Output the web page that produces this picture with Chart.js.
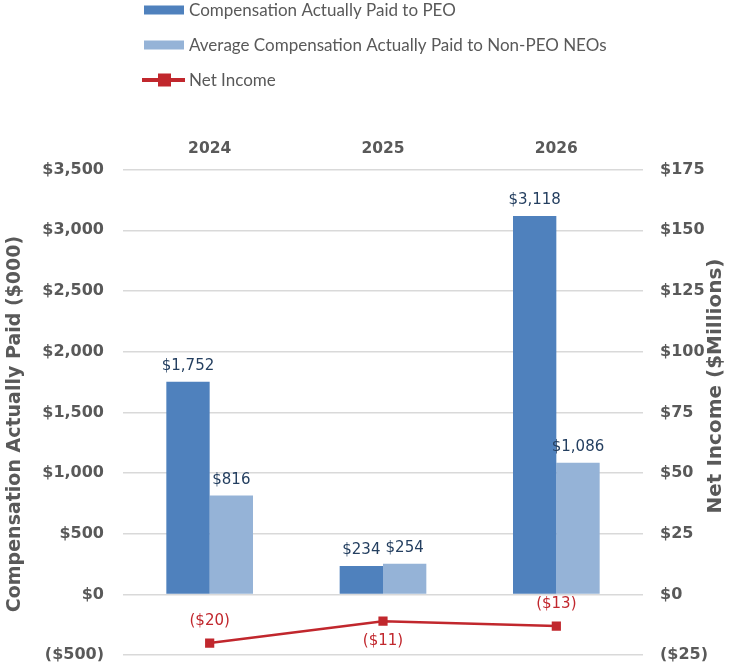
<!DOCTYPE html>
<html>
<head>
<meta charset="utf-8">
<script src="https://cdn.jsdelivr.net/npm/chart.js@4.4.1/dist/chart.umd.min.js"></script>
<style>
  html, body { margin: 0; padding: 0; background: #ffffff; }
  #wrap { width: 753px; height: 671px; position: relative; }
</style>
</head>
<body>
<div id="wrap"><canvas id="c"></canvas></div>
<script>
const categories = ["2024", "2025", "2026"];
const peoValues = [1752, 234, 3118];
const nonPeoValues = [816, 254, 1086];
const netIncomeValues = [-20, -11, -13];
const leftTicks = [-500, 0, 500, 1000, 1500, 2000, 2500, 3000, 3500];
const rightTicks = [-25, 0, 25, 50, 75, 100, 125, 150, 175];
const seriesNames = ["Compensation Actually Paid to PEO", "Average Compensation Actually Paid to Non-PEO NEOs", "Net Income"];
const leftTitle = "Compensation Actually Paid ($000)";
const rightTitle = "Net Income ($Millions)";
const netLabelAbove = [true, false, true];

const COL_PEO = "#4F81BD";
const COL_NON = "#95B3D7";
const COL_RED = "#C1272D";
const COL_TXT = "#595959";
const COL_VAL = "#243F60";

function money(v) {
  const s = "$" + Math.abs(v).toLocaleString("en-US");
  return v < 0 ? "(" + s + ")" : s;
}

const extras = {
  id: "extras",
  afterDatasetsDraw(chart) {
    const ctx = chart.ctx;
    ctx.save();
    ctx.font = "15px 'DejaVu Sans'";
    ctx.fillStyle = COL_VAL;
    ctx.textAlign = "center";
    ctx.textBaseline = "middle";
    [0, 1].forEach(di => {
      chart.getDatasetMeta(di).data.forEach((el, i) => {
        ctx.fillText(money(chart.data.datasets[di].data[i]), el.x, el.y - 15.5);
      });
    });
    ctx.fillStyle = COL_RED;
    chart.getDatasetMeta(2).data.forEach((el, i) => {
      const dy = netLabelAbove[i] ? -22 : 20;
      ctx.fillText(money(chart.data.datasets[2].data[i]), el.x, el.y + dy);
    });
    ctx.restore();
  },
  afterDraw(chart) {
    const ctx = chart.ctx;
    ctx.save();
    ctx.fillStyle = COL_TXT;
    ctx.textAlign = "center";
    ctx.textBaseline = "middle";
    ctx.save();
    ctx.font = "bold 19px 'DejaVu Sans'";
    ctx.translate(15, 424);
    ctx.rotate(-Math.PI / 2);
    ctx.fillText(leftTitle, 0, 0);
    ctx.restore();
    ctx.save();
    ctx.font = "bold 20px 'DejaVu Sans'";
    ctx.translate(716, 386);
    ctx.rotate(-Math.PI / 2);
    ctx.fillText(rightTitle, 0, 0);
    ctx.restore();
    // legend
    ctx.font = "17px Lato";
    ctx.textAlign = "left";
    ctx.textBaseline = "middle";
    const rows = [10, 45, 80];
    ctx.fillStyle = COL_PEO;
    ctx.fillRect(144, rows[0] - 4.5, 40, 9);
    ctx.fillStyle = COL_NON;
    ctx.fillRect(144, rows[1] - 4.5, 40, 9);
    ctx.strokeStyle = COL_RED;
    ctx.lineWidth = 4;
    ctx.beginPath();
    ctx.moveTo(142, rows[2]);
    ctx.lineTo(185, rows[2]);
    ctx.stroke();
    ctx.fillStyle = COL_RED;
    ctx.fillRect(158, rows[2] - 6.5, 13, 13);
    ctx.fillStyle = COL_TXT;
    seriesNames.forEach((n, i) => ctx.fillText(n, 189, rows[i] + 1));
    ctx.restore();
  }
};

new Chart(document.getElementById("c"), {
  type: "bar",
  data: {
    labels: categories,
    datasets: [
      { label: seriesNames[0], data: peoValues, backgroundColor: COL_PEO, yAxisID: "y", order: 2,
        categoryPercentage: 0.5, barPercentage: 1.0 },
      { label: seriesNames[1], data: nonPeoValues, backgroundColor: COL_NON, yAxisID: "y", order: 2,
        categoryPercentage: 0.5, barPercentage: 1.0 },
      { label: seriesNames[2], data: netIncomeValues, type: "line", yAxisID: "y1", order: 1,
        borderColor: COL_RED, backgroundColor: COL_RED, borderWidth: 2.5,
        pointStyle: "rect", pointRadius: 6.5, pointHoverRadius: 6.5, pointBorderWidth: 0, tension: 0 }
    ]
  },
  options: {
    responsive: true,
    maintainAspectRatio: false,
    animation: false,
    layout: { padding: { top: 120, bottom: 15.8, left: 0, right: 0 } },
    plugins: { legend: { display: false }, tooltip: { enabled: false } },
    scales: {
      x: {
        position: "top",
        grid: { display: false },
        border: { display: false },
        ticks: { color: COL_TXT, font: { family: "'DejaVu Sans'", weight: "bold", size: 15.5 }, padding: 3 },
        afterFit(s) { s.height = 49.6; }
      },
      y: {
        position: "left",
        min: -500, max: 3500,
        afterBuildTicks(s) { s.ticks = leftTicks.map(v => ({ value: v })); },
        grid: { color: "#D9D9D9", lineWidth: 1.5, drawTicks: false },
        border: { display: false },
        ticks: { color: COL_TXT, font: { family: "'DejaVu Sans'", weight: "bold", size: 16 }, padding: 19,
                 callback: v => money(v) },
        afterFit(s) { s.width = 123; s.paddingTop = 0; s.paddingBottom = 0; }
      },
      y1: {
        position: "right",
        min: -25, max: 175,
        afterBuildTicks(s) { s.ticks = rightTicks.map(v => ({ value: v })); },
        grid: { display: false, drawTicks: false },
        border: { display: false },
        ticks: { color: COL_TXT, font: { family: "'DejaVu Sans'", weight: "bold", size: 16 }, padding: 17,
                 callback: v => money(v) },
        afterFit(s) { s.width = 110; s.paddingTop = 0; s.paddingBottom = 0; }
      }
    }
  },
  plugins: [extras]
});
</script>
</body>
</html>
